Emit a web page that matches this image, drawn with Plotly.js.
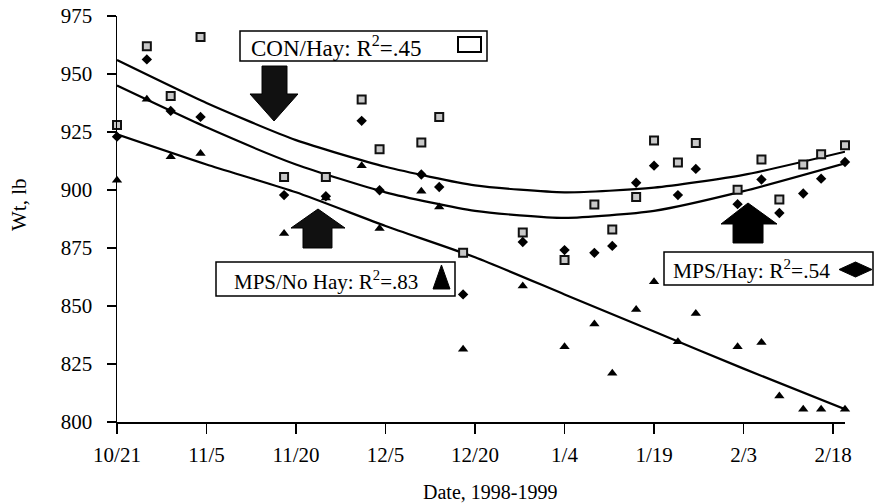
<!DOCTYPE html>
<html>
<head>
<meta charset="utf-8">
<script src="https://cdn.plot.ly/plotly-3.0.1.min.js"></script>
<style>html,body{margin:0;padding:0;background:#fff;}#chart{width:874px;height:504px;}</style>
</head>
<body>
<div id="chart"></div>
<script>
// ---- data ----
const dates = ['1998-10-21','1998-10-26','1998-10-30','1998-11-04','1998-11-18','1998-11-25','1998-12-01',
  '1998-12-04','1998-12-11','1998-12-14','1998-12-18','1998-12-28','1999-01-04','1999-01-09','1999-01-12',
  '1999-01-16','1999-01-19','1999-01-23','1999-01-26','1999-02-02','1999-02-06','1999-02-09','1999-02-13',
  '1999-02-16','1999-02-20'];
const conHay = [928, 962, 940.5, 966, 905.6, 905.6, 939, 917.6, 920.5, 931.5, 873, 881.7, 869.8, 893.7, 883,
  897, 921.3, 911.8, 920.3, 900.1, 913.1, 895.9, 911, 915.4, 919.3];
const mpsHay = [923, 956.3, 934.1, 931.5, 897.8, 897.3, 929.8, 899.9, 906.7, 901.3, 855, 877.6, 874.1, 872.9, 875.9,
  903.1, 910.5, 897.8, 909.1, 893.9, 904.5, 890.1, 898.5, 904.9, 912.1];
const mpsNoHay = [904.2, 939.1, 914.3, 915.7, 881.3, 896.5, 910.4, 883.4, 899.5, 892.7, 831.4, 858.6, 832.4, 842.2, 821,
  848.5, 860.4, 834.6, 846.8, 832.4, 834.3, 811.2, 805.5, 805.5, 805.5];

// trend curves, values
const fitDates = ['1998-10-21','1998-11-05','1998-11-20','1998-12-05','1998-12-20','1999-01-04','1999-01-19','1999-02-03','1999-02-20'];
const conHayFit = [956, 937.5, 921.5, 910, 902, 899, 901, 906.5, 916.5];
const mpsHayFit = [945, 927, 911, 899, 891, 888, 891, 899.5, 911.5];
const mpsNoHayFit = [924, 911, 899, 884.5, 871, 855, 839, 823, 805.5];

const tickDates = ['1998-10-21','1998-11-05','1998-11-20','1998-12-05','1998-12-20','1999-01-04','1999-01-19','1999-02-03','1999-02-18'];
const tickLabels = ['10/21','11/5','11/20','12/5','12/20','1/4','1/19','2/3','2/18'];
const yTicks = [800, 825, 850, 875, 900, 925, 950, 975];

const labels = {con: 'CON/Hay: R<sup>2</sup>=.45', noHay: 'MPS/No Hay: R<sup>2</sup>=.83', hay: 'MPS/Hay: R<sup>2</sup>=.54'};

// ---- geometry helpers (pixel -> paper) ----
const L = 117, R = 845, T = 16, B = 422;
const px = x => (x - L) / (R - L);
const py = y => (B - y) / (B - T);
const poly = pts => 'M' + pts.map(p => px(p[0]).toFixed(4) + ',' + py(p[1]).toFixed(4)).join(' L') + ' Z';

const FONT = 'Liberation Serif, Times New Roman, serif';

const traces = [
  {x: fitDates, y: conHayFit, mode: 'lines', line: {color: '#000', width: 2.2, shape: 'spline', smoothing: 0.6}, hoverinfo: 'skip'},
  {x: fitDates, y: mpsHayFit, mode: 'lines', line: {color: '#000', width: 2.2, shape: 'spline', smoothing: 0.6}, hoverinfo: 'skip'},
  {x: fitDates, y: mpsNoHayFit, mode: 'lines', line: {color: '#000', width: 2.2, shape: 'spline', smoothing: 0.6}, hoverinfo: 'skip'},
  {x: dates, y: conHay, mode: 'markers', name: 'CON/Hay', cliponaxis: false,
   marker: {symbol: 'square', size: 8, color: '#c8c8c8', line: {color: '#111', width: 2}}},
  {x: dates, y: mpsHay, mode: 'markers', name: 'MPS/Hay', cliponaxis: false,
   marker: {symbol: 'diamond', size: 8, color: '#000'}},
  {x: dates, y: mpsNoHay, mode: 'markers', name: 'MPS/No Hay', cliponaxis: false,
   marker: {symbol: 'triangle-up', size: 9, color: '#000'}}
];

const shapes = [
  // label boxes
  {type: 'rect', xref: 'paper', yref: 'paper', x0: px(240), x1: px(487), y0: py(31), y1: py(61), line: {color: '#000', width: 1.5}, fillcolor: '#fff', layer: 'above'},
  {type: 'rect', xref: 'paper', yref: 'paper', x0: px(216), x1: px(455), y0: py(262), y1: py(296), line: {color: '#000', width: 1.5}, fillcolor: '#fff', layer: 'above'},
  {type: 'rect', xref: 'paper', yref: 'paper', x0: px(664), x1: px(873), y0: py(252), y1: py(285), line: {color: '#000', width: 1.5}, fillcolor: '#fff', layer: 'above'},
  // legend symbols inside boxes
  {type: 'rect', xref: 'paper', yref: 'paper', x0: px(458), x1: px(481), y0: py(37), y1: py(52), line: {color: '#000', width: 2}, fillcolor: 'rgba(0,0,0,0)', layer: 'above'},
  {type: 'path', xref: 'paper', yref: 'paper', path: poly([[433,289],[450,289],[441.5,265]]), line: {color: '#000', width: 1}, fillcolor: '#000', layer: 'above'},
  {type: 'path', xref: 'paper', yref: 'paper', path: poly([[839,269.5],[855.5,262],[872,269.5],[855.5,277]]), line: {color: '#000', width: 1}, fillcolor: '#000', layer: 'above'},
  // block arrows
  {type: 'path', xref: 'paper', yref: 'paper', path: poly([[262,66],[287,66],[287,94],[298,94],[274,121],[250,94],[262,94]]), line: {color: '#000', width: 1}, fillcolor: '#111', layer: 'above'},
  {type: 'path', xref: 'paper', yref: 'paper', path: poly([[318,209],[345,228],[332,228],[332,248],[303,248],[303,228],[291,228]]), line: {color: '#000', width: 1}, fillcolor: '#111', layer: 'above'},
  {type: 'path', xref: 'paper', yref: 'paper', path: poly([[748,203],[777,224],[763,224],[763,243],[733,243],[733,224],[721,224]]), line: {color: '#000', width: 1}, fillcolor: '#000', layer: 'above'}
];

const annotations = [
  {xref: 'paper', yref: 'paper', x: px(249), y: py(47), xanchor: 'left', yanchor: 'middle', showarrow: false, text: labels.con, font: {family: FONT, size: 23, color: '#000'}},
  {xref: 'paper', yref: 'paper', x: px(232), y: py(280), xanchor: 'left', yanchor: 'middle', showarrow: false, text: labels.noHay, font: {family: FONT, size: 21, color: '#000'}},
  {xref: 'paper', yref: 'paper', x: px(671), y: py(269), xanchor: 'left', yanchor: 'middle', showarrow: false, text: labels.hay, font: {family: FONT, size: 21.5, color: '#000'}},
  {xref: 'paper', yref: 'paper', x: px(490), y: py(492), xanchor: 'center', yanchor: 'middle', showarrow: false, text: 'Date, 1998-1999', font: {family: FONT, size: 20, color: '#000'}},
  {xref: 'paper', yref: 'paper', x: px(19), y: py(205), xanchor: 'center', yanchor: 'middle', showarrow: false, textangle: -90, text: 'Wt, lb', font: {family: FONT, size: 21, color: '#000'}}
];

const layout = {
  width: 874, height: 504,
  margin: {l: L, r: 874 - R, t: T, b: 504 - B, pad: 0},
  paper_bgcolor: '#fff', plot_bgcolor: '#fff',
  showlegend: false,
  font: {family: FONT, size: 21, color: '#000'},
  xaxis: {
    type: 'date', range: ['1998-10-21', '1999-02-20'],
    tickmode: 'array', tickvals: tickDates, ticktext: tickLabels,
    ticks: 'outside', ticklen: 10, tickwidth: 1.5, tickcolor: '#000',
    showline: true, linecolor: '#000', linewidth: 1.5,
    showgrid: false, zeroline: false, ticklabelstandoff: 3,
    tickfont: {family: FONT, size: 21, color: '#000'}
  },
  yaxis: {
    range: [800, 975], tickmode: 'array', tickvals: yTicks,
    ticks: 'outside', ticklen: 9, tickwidth: 1.5, tickcolor: '#000',
    showline: true, linecolor: '#000', linewidth: 1.5,
    showgrid: false, zeroline: false, ticklabelstandoff: 10,
    tickfont: {family: FONT, size: 21, color: '#000'}
  },
  shapes: shapes,
  annotations: annotations
};

Plotly.newPlot('chart', traces, layout, {staticPlot: true, displayModeBar: false});
</script>
</body>
</html>
